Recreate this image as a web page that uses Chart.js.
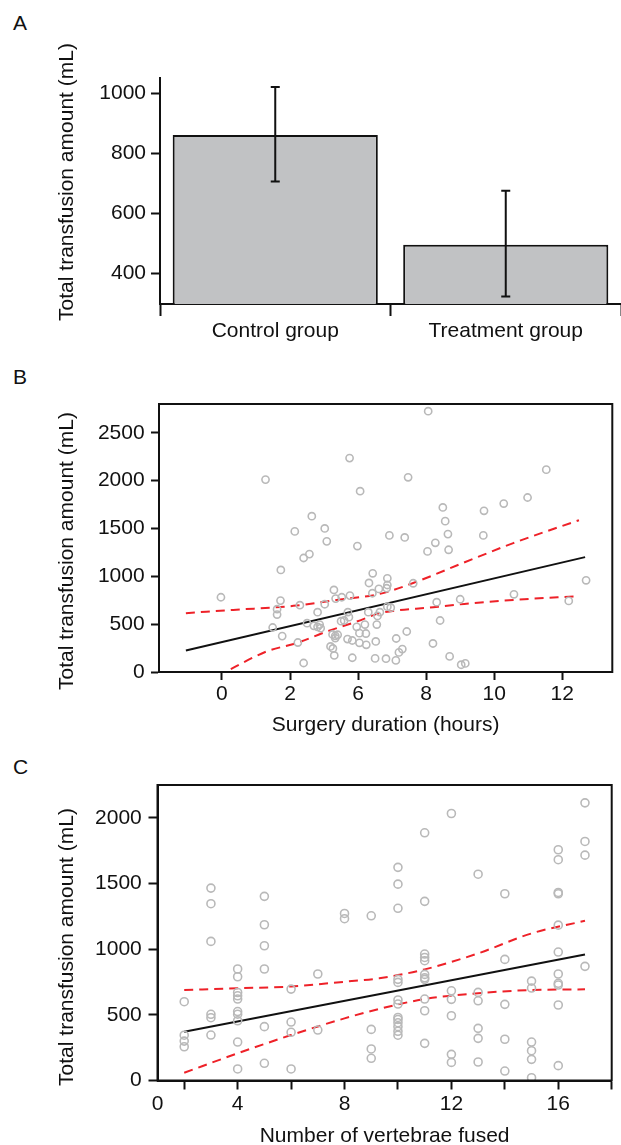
<!DOCTYPE html>
<html lang="en">
<head>
    <meta charset="UTF-8">
    <title>Total transfusion amount</title>
    <script src="https://cdn.jsdelivr.net/npm/chart.js"></script>
    <style>
        html, body { margin: 0; padding: 0; background: #fff; overflow: hidden; }
        .page { position: relative; width: 621px; height: 1145px; font-family: "Liberation Sans", Arial, sans-serif; color: #111; }
        .panel { position: absolute; left: 0; width: 621px; }
        .tag { position: absolute; left: 13px; font-size: 21px; line-height: 21px; }
    </style>
</head>
<body>
<div class="page">
    <div class="tag" style="top: 12px;">A</div>
    <div class="tag" style="top: 366px;">B</div>
    <div class="tag" style="top: 756px;">C</div>

    <div class="panel" style="top: 0; height: 360px;"><canvas id="chartA"></canvas></div>
    <div class="panel" style="top: 360px; height: 385px;"><canvas id="chartB"></canvas></div>
    <div class="panel" style="top: 750px; height: 400px;"><canvas id="chartC"></canvas></div>
</div>

<script>
    // A: mean transfusion per group with error bars
    const groupNames = ['Control group', 'Treatment group'];
    const groupMeans = [860, 494];
    const groupUpper = [1020, 674];
    const groupLower = [705, 322];
    const yTicksA = [400, 600, 800, 1000];

    // B: surgery duration (axis positions; printed labels below)
    const durationX = [-0.03, 1.28, 3.75, 4.06, 2.64, 2.14, 3.02, 3.08, 3.98, 2.40, 2.57, 1.73, 4.92,
        4.43, 4.32, 4.86, 3.29, 3.76, 3.52, 3.34, 4.42, 4.61, 4.84,
        1.72, 1.62, 1.62, 2.29, 3.02, 2.81, 3.70, 3.73, 3.50, 3.59, 4.30, 4.57, 4.64,
        1.49, 1.77, 2.50, 2.70, 2.81, 2.90, 2.87, 2.23, 2.40, 3.19, 3.26, 3.30, 3.33, 3.40, 3.25, 3.33, 3.69, 3.83, 3.83,
        3.96, 4.04, 4.04, 4.20, 4.23, 4.24, 4.55, 4.52, 4.50, 4.82,
        6.06, 5.47, 9.53, 8.98, 8.28, 7.70, 6.49, 6.56, 6.64, 7.68, 5.37, 6.27, 6.04, 6.66, 10.70, 5.62, 4.86,
        10.19, 8.58, 7.00, 6.31, 6.41, 4.86, 4.96, 5.43, 5.12, 6.20, 5.30, 5.20, 5.11, 6.69, 7.03, 7.15];
    const durationY = [781, 2010, 2235, 1889, 1628, 1469, 1500, 1365, 1316, 1191, 1232, 1066, 1427,
        1031, 930, 979, 857, 798, 781, 767, 823, 868, 875,
        746, 656, 600, 698, 708, 625, 625, 573, 531, 538, 625, 586, 625,
        465, 375, 510, 482, 472, 458, 496, 308, 94, 267, 246, 173, 378, 389, 392, 354, 344, 329, 149,
        472, 406, 305, 496, 402, 284, 496, 319, 142, 139,
        2725, 2034, 2114, 1823, 1760, 1684, 1719, 1576, 1441, 1427, 1406, 1350, 1260, 1277, 958, 927, 909,
        743, 812, 760, 729, 538, 683, 672, 423, 350, 298, 240, 205, 121, 163, 76, 90];
    const durFitX = [-1.06, 10.67];
    const durFitY = [225, 1200];
    const durUpperX = [-1.06, 0.33, 2.10, 3.37, 4.64, 5.62, 7.09, 8.56, 10.49];
    const durUpperY = [615, 649, 691, 753, 816, 930, 1140, 1347, 1586];
    const durLowerX = [0.26, 1.31, 2.19, 3.08, 3.96, 4.64, 6.21, 7.12, 8.56, 10.49];
    const durLowerY = [31, 215, 302, 423, 527, 614, 677, 711, 753, 792];
    const durTickPos = [0, 2, 4, 6, 8, 10];
    const durTickText = ['0', '2', '6', '8', '10', '12'];
    const yTicksB = [0, 500, 1000, 1500, 2000, 2500];

    // C: number of vertebrae fused
    const fusedX = [2, 2, 2, 2,
        3, 3, 3, 3, 3, 3,
        4, 4, 4, 4, 4, 4, 4, 4, 4, 4,
        5, 5, 5, 5, 5, 5,
        6, 6, 6, 6,
        7, 7,
        8, 8,
        9, 9, 9, 9,
        10, 10, 10, 10, 10, 10, 10, 10, 10, 10, 10, 10, 10,
        11, 11, 11, 11, 11, 11, 11, 11, 11, 11, 11,
        12, 12, 12, 12, 12, 12,
        13, 13, 13, 13, 13, 13,
        14, 14, 14, 14, 14,
        15, 15, 15, 15, 15, 15,
        16, 16, 16, 16, 16, 16, 16, 16, 16, 16, 16,
        17, 17, 17, 17];
    const fusedY = [600, 345, 300, 257,
        1465, 1346, 1059, 504, 478, 346,
        849, 790, 670, 645, 620, 525, 505, 455, 293, 88,
        1402, 1186, 1026, 849, 410, 131,
        696, 445, 367, 88,
        811, 384,
        1272, 1232,
        1254, 389, 240, 169,
        1623, 1495, 1311, 770, 747, 613, 582, 480, 465, 440, 410, 375, 345,
        1886, 1364, 963, 937, 912, 808, 782, 770, 620, 531, 283,
        2033, 683, 618, 493, 199, 138,
        1571, 671, 607, 397, 321, 141,
        1422, 922, 580, 314, 72,
        757, 704, 293, 227, 161, 21,
        1757, 1681, 1432, 1422, 1183, 978, 811, 740, 727, 575, 113,
        2114, 1820, 1716, 869];
    const fusedFitX = [2, 17];
    const fusedFitY = [371, 960];
    const fusedUpperX = [2, 4, 6, 8, 9.3, 11, 13, 15, 17];
    const fusedUpperY = [689, 702, 716, 752, 778, 846, 968, 1120, 1216];
    const fusedLowerX = [2, 4, 6, 8, 9.3, 11, 13, 15, 17];
    const fusedLowerY = [59, 207, 346, 473, 545, 620, 664, 689, 694];
    const fusedTickPos = [1, 2, 4, 6, 8, 10, 12, 14, 16, 18];
    const fusedTickText = ['0', '', '4', '', '8', '', '12', '', '16', ''];
    const yTicksC = [0, 500, 1000, 1500, 2000];

    const FONT = '"Liberation Sans", Arial, sans-serif';
    const INK = '#111';
    const RED = '#ee2128';
    const DOT = '#b9b9b9';
    const CLEAR = 'rgba(0,0,0,0)';
    Chart.defaults.font.family = FONT;
    Chart.defaults.font.size = 21;
    Chart.defaults.color = INK;

    const pts = (xs, ys) => xs.map((x, i) => ({ x: x, y: ys[i] }));
    const plain = v => String(v);

    const sideTitle = {
        id: 'sideTitle',
        afterDraw(chart, args, opts) {
            const ctx = chart.ctx;
            ctx.save();
            ctx.translate(opts.x, opts.y);
            ctx.rotate(-Math.PI / 2);
            ctx.font = '21px ' + FONT;
            ctx.fillStyle = INK;
            ctx.textAlign = 'center';
            ctx.textBaseline = 'middle';
            ctx.fillText(opts.text, 0, 0);
            ctx.restore();
        }
    };

    const frame = {
        id: 'frame',
        afterDraw(chart) {
            const { left, top, right, bottom } = chart.chartArea;
            const ctx = chart.ctx;
            ctx.save();
            ctx.strokeStyle = INK;
            ctx.lineWidth = 2;
            ctx.strokeRect(left, top, right - left, bottom - top);
            ctx.restore();
        }
    };

    const errorBars = {
        id: 'errorBars',
        afterDatasetsDraw(chart) {
            const ctx = chart.ctx;
            const y = chart.scales.y;
            ctx.save();
            ctx.strokeStyle = INK;
            ctx.lineWidth = 2;
            chart.getDatasetMeta(0).data.forEach((bar, i) => {
                const hi = y.getPixelForValue(groupUpper[i]);
                const lo = y.getPixelForValue(groupLower[i]);
                ctx.beginPath();
                ctx.moveTo(bar.x, hi); ctx.lineTo(bar.x, lo);
                ctx.moveTo(bar.x - 4.5, hi); ctx.lineTo(bar.x + 4.5, hi);
                ctx.moveTo(bar.x - 4.5, lo); ctx.lineTo(bar.x + 4.5, lo);
                ctx.stroke();
            });
            ctx.restore();
        }
    };

    function axisGrid(len) {
        return { drawOnChartArea: false, drawTicks: true, tickLength: len, tickWidth: 2, tickColor: INK };
    }

    function setTicks(values) {
        return scale => { scale.ticks = values.map(v => ({ value: v })); };
    }

    // panel A
    new Chart(document.getElementById('chartA'), {
        type: 'bar',
        data: {
            labels: groupNames,
            datasets: [{
                data: groupMeans,
                backgroundColor: '#c1c2c4',
                borderColor: INK,
                borderWidth: 2,
                barPercentage: 0.89,
                categoryPercentage: 1
            }]
        },
        options: {
            responsive: true,
            maintainAspectRatio: false,
            animation: false,
            layout: { padding: { top: 78, right: 0, bottom: 0, left: 0 } },
            plugins: {
                legend: { display: false },
                tooltip: { enabled: false },
                sideTitle: { text: 'Total transfusion amount (mL)', x: 67.5, y: 182 }
            },
            scales: {
                x: {
                    grid: {
                        ...axisGrid(12),
                        offset: true,
                        tickColor: c => (c.index === groupNames.length ? CLEAR : INK)
                    },
                    border: { display: true, width: 2, color: INK },
                    ticks: { padding: 2.5, font: { size: 21 } },
                    afterFit: s => { s.height = 56; }
                },
                y: {
                    min: 297,
                    max: 1050,
                    grid: axisGrid(9),
                    border: { display: true, width: 2, color: INK },
                    ticks: { padding: 5, font: { size: 21 }, callback: plain },
                    afterBuildTicks: setTicks(yTicksA),
                    afterFit: s => { s.width = 160; }
                }
            }
        },
        plugins: [errorBars, sideTitle]
    });

    function scatterPanel(id, cfg) {
        return new Chart(document.getElementById(id), {
            type: 'scatter',
            data: {
                datasets: [
                    {
                        data: pts(cfg.xs, cfg.ys),
                        pointRadius: cfg.dot,
                        pointBorderWidth: 1.6,
                        pointBorderColor: DOT,
                        pointBackgroundColor: CLEAR
                    },
                    {
                        type: 'line',
                        data: pts(cfg.upX, cfg.upY),
                        borderColor: RED, borderWidth: 2, borderDash: [9, 6],
                        pointRadius: 0, cubicInterpolationMode: 'monotone'
                    },
                    {
                        type: 'line',
                        data: pts(cfg.loX, cfg.loY),
                        borderColor: RED, borderWidth: 2, borderDash: [9, 6],
                        pointRadius: 0, cubicInterpolationMode: 'monotone'
                    },
                    {
                        type: 'line',
                        data: pts(cfg.fitX, cfg.fitY),
                        borderColor: INK, borderWidth: 2,
                        pointRadius: 0
                    }
                ]
            },
            options: {
                responsive: true,
                maintainAspectRatio: false,
                animation: false,
                layout: { padding: cfg.pad },
                plugins: {
                    legend: { display: false },
                    tooltip: { enabled: false },
                    sideTitle: { text: 'Total transfusion amount (mL)', x: 67.5, y: cfg.titleY }
                },
                scales: {
                    x: {
                        type: 'linear',
                        min: cfg.xMin,
                        max: cfg.xMax,
                        grid: {
                            ...axisGrid(cfg.xTick),
                            tickColor: c => (cfg.noTickAt === c.tick.value ? CLEAR : INK)
                        },
                        border: { display: true, width: 2, color: INK },
                        ticks: {
                            padding: cfg.xPad,
                            font: { size: 21 },
                            callback: v => cfg.tickText[cfg.tickPos.indexOf(v)]
                        },
                        afterBuildTicks: setTicks(cfg.tickPos),
                        afterFit: s => { s.height = cfg.xHeight; },
                        title: {
                            display: true,
                            text: cfg.xTitle,
                            font: { size: 21 },
                            padding: { top: 0, bottom: cfg.titlePad }
                        }
                    },
                    y: {
                        min: 0,
                        max: cfg.yMax,
                        grid: axisGrid(cfg.yTick),
                        border: { display: true, width: 2, color: INK },
                        ticks: { padding: cfg.yPad, font: { size: 21 }, callback: plain },
                        afterBuildTicks: setTicks(cfg.yTicks),
                        afterFit: s => { s.width = cfg.yWidth; }
                    }
                }
            },
            plugins: [frame, sideTitle]
        });
    }

    scatterPanel('chartB', {
        xs: durationX, ys: durationY, dot: 3.6,
        upX: durUpperX, upY: durUpperY, loX: durLowerX, loY: durLowerY,
        fitX: durFitX, fitY: durFitY,
        xMin: -1.85, xMax: 11.47, yMax: 2800,
        tickPos: durTickPos, tickText: durTickText, yTicks: yTicksB,
        xTitle: 'Surgery duration (hours)',
        pad: { top: 44, right: 8.7, bottom: 0, left: 0 },
        yWidth: 159, xHeight: 73, xTick: 8, yTick: 8, xPad: 2, yPad: 6.4, titlePad: 7,
        titleY: 191
    });

    scatterPanel('chartC', {
        xs: fusedX, ys: fusedY, dot: 4,
        upX: fusedUpperX, upY: fusedUpperY, loX: fusedLowerX, loY: fusedLowerY,
        fitX: fusedFitX, fitY: fusedFitY,
        xMin: 1, xMax: 18, yMax: 2250,
        tickPos: fusedTickPos, tickText: fusedTickText, yTicks: yTicksC, noTickAt: 1,
        xTitle: 'Number of vertebrae fused',
        pad: { top: 35, right: 9.3, bottom: 0, left: 0 },
        yWidth: 157.5, xHeight: 69.5, xTick: 9, yTick: 9, xPad: 2.4, yPad: 6.7, titlePad: 1.4,
        titleY: 197
    });
</script>
</body>
</html>
